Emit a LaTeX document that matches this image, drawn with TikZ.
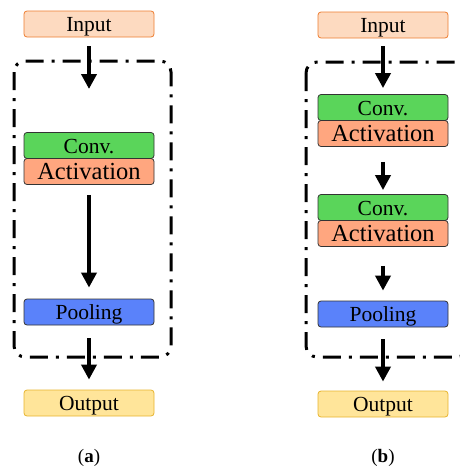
\documentclass[tikz,border=0pt]{standalone}
\usepackage{fontspec}
\setmainfont{Liberation Serif}
\usetikzlibrary{arrows.meta}

\definecolor{inFill}{HTML}{FDDAC0}
\definecolor{inLine}{HTML}{EE7D31}
\definecolor{convFill}{HTML}{5AD55A}
\definecolor{actFill}{HTML}{FFA67F}
\definecolor{poolFill}{HTML}{5A82FA}
\definecolor{outFill}{HTML}{FFE59A}
\definecolor{outLine}{HTML}{E8B42E}

\tikzset{
  block/.style={draw=black!80, line width=0.8pt, rounded corners=3pt, minimum width=130pt, minimum height=26pt, inner sep=0pt, text height=17.5pt, text depth=2.5pt, font=\fontsize{21.5}{21.5}\selectfont},
  inbox/.style={block, draw=inLine, fill=inFill},
  convbox/.style={block, fill=convFill},
  actbox/.style={block, fill=actFill, font=\fontsize{24.5}{24.5}\selectfont},
  poolbox/.style={block, fill=poolFill},
  outbox/.style={block, draw=outLine, fill=outFill},
  flow/.style={line width=4pt, -{Triangle[width=15pt,length=15pt]}},
  frame/.style={line width=3pt, rounded corners=11pt, dash pattern=on 18pt off 8pt on 3pt off 8pt},
  sublabel/.style={font=\fontsize{19}{19}\selectfont}
}

\begin{document}
\begin{tikzpicture}[x=1pt, y=-1pt]
\useasboundingbox (0,0) rectangle (460,466);

% (a) one conv block
\draw[frame] (14,61) rectangle (171,357);
\node[inbox] (inA) at (89,24) {Input};
\node[convbox] (convA) at (89,145.5) {Conv.};
\node[actbox] (actA) at (89,171.5) {Activation};
\node[poolbox] (poolA) at (89,312) {Pooling};
\node[outbox] (outA) at (89,403) {Output};
\coordinate (endA) at (89,89);
\draw[flow, shorten <=9pt] (inA) -- (endA);
\draw[flow, shorten <=10pt, shorten >=11pt] (actA) -- (poolA);
\draw[flow, shorten <=13pt, shorten >=10pt] (poolA) -- (outA);
\node[sublabel] (labA) at (89,458) {(\textbf{a})};

% (b) two conv blocks
\draw[frame] (306,62) rectangle (468,357);
\node[inbox] (inB) at (383,25) {Input};
\node[convbox] (convB1) at (383,107.5) {Conv.};
\node[actbox] (actB1) at (383,133.5) {Activation};
\node[convbox] (convB2) at (383,207.5) {Conv.};
\node[actbox] (actB2) at (383,233.5) {Activation};
\node[poolbox] (poolB) at (383,314) {Pooling};
\node[outbox] (outB) at (383,404) {Output};
\draw[flow, shorten <=8pt, shorten >=6pt] (inB) -- (convB1);
\draw[flow, shorten <=15pt, shorten >=4pt] (actB1) -- (convB2);
\draw[flow, shorten <=19pt, shorten >=10pt] (actB2) -- (poolB);
\draw[flow, shorten <=12pt, shorten >=9pt] (poolB) -- (outB);
\node[sublabel] (labB) at (383,458) {(\textbf{b})};
\end{tikzpicture}
\end{document}
